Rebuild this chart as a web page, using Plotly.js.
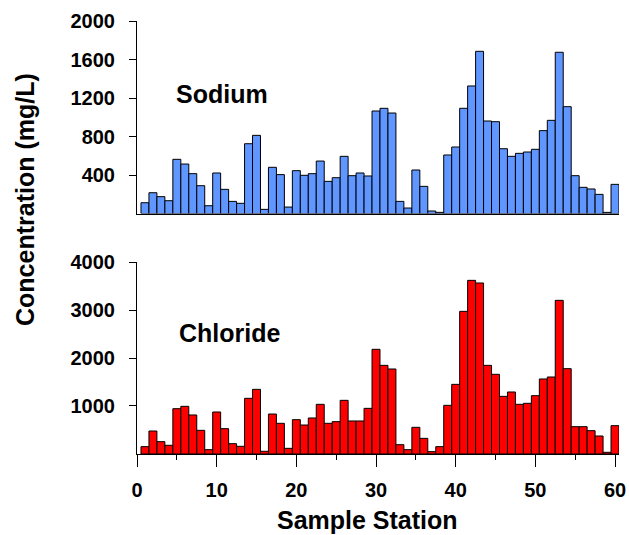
<!DOCTYPE html>
<html>
<head>
<meta charset="utf-8">
<script src="https://cdn.plot.ly/plotly-3.0.1.min.js"></script>
<style>html,body{margin:0;padding:0;background:#fff;}#chart{width:629px;height:535px;}</style>
</head>
<body>
<div id="chart"></div>
<script>
const stations = [1,2,3,4,5,6,7,8,9,10,11,12,13,14,15,16,17,18,19,20,21,22,23,24,25,26,27,28,29,30,31,32,33,34,35,36,37,38,39,40,41,42,43,44,45,46,47,48,49,50,51,52,53,54,55,56,57,58,59,60];
const sodium = [112,216,175,133,563,514,414,289,81,421,
                251,126,106,725,812,43,480,404,67,445,
                397,414,545,334,372,594,393,421,390,1065,
                1093,1044,126,57,452,282,26,12,608,691,
                1093,1325,1685,961,954,673,594,625,639,667,
                861,968,1675,1110,393,272,255,199,12,303];
const chloride = [153,479,257,181,944,993,813,493,90,875,
                  528,215,160,1160,1347,56,833,639,118,715,
                  604,750,1035,639,674,1118,688,688,951,2181,
                  1847,1771,194,90,556,326,49,153,1014,1451,
                  2972,3618,3563,1847,1660,1201,1292,1035,1056,1215,
                  1563,1604,3201,1778,569,569,486,375,35,590];
const sodiumTicks = [400,800,1200,1600,2000];
const chlorideTicks = [1000,2000,3000,4000];
const xLabel = 'Sample Station';
const yLabel = 'Concentration (mg/L)';

const FONT = 'Liberation Sans, Arial, Helvetica, sans-serif';
const tickFont = {family: FONT, size: 20, color: '#000', weight: 'bold'};

const traces = [
  {type:'bar', x: stations, y: sodium, xaxis:'x2', yaxis:'y', name:'Sodium',
   marker:{color:'#6096FF', line:{color:'#000', width:1}}, width:1, hoverinfo:'x+y'},
  {type:'bar', x: stations, y: chloride, xaxis:'x', yaxis:'y2', name:'Chloride',
   marker:{color:'#FF0000', line:{color:'#000', width:1}}, width:1, hoverinfo:'x+y'}
];

const layout = {
  width: 629, height: 535,
  margin: {l:137, r:10, t:21, b:81, pad:0},
  paper_bgcolor:'#fff', plot_bgcolor:'#fff',
  showlegend:false, bargap:0,
  font:{family: FONT, color:'#000'},
  xaxis: {
    domain:[0,1], anchor:'y2', range:[0,60.5],
    tickmode:'linear', tick0:0, dtick:10,
    ticks:'outside', ticklen:12, tickwidth:1, tickcolor:'#000',
    minor:{dtick:5, tick0:0, ticks:'outside', ticklen:5, tickwidth:1, tickcolor:'#000', showgrid:false},
    ticklabelstandoff:6,
    showline:true, linecolor:'#000', linewidth:1,
    showgrid:false, zeroline:false, tickfont: tickFont
  },
  xaxis2: {
    matches:'x', anchor:'y', domain:[0,1],
    ticks:'', showticklabels:false,
    showline:true, linecolor:'#000', linewidth:1,
    showgrid:false, zeroline:false
  },
  yaxis: {
    domain:[0.5554,1], anchor:'x2', range:[0,2000],
    tickmode:'array', tickvals: sodiumTicks,
    ticks:'outside', ticklen:7, tickwidth:1, tickcolor:'#000',
    ticklabelstandoff:10,
    showline:true, linecolor:'#000', linewidth:1,
    showgrid:false, zeroline:false, tickfont: tickFont
  },
  yaxis2: {
    domain:[0,0.4434], anchor:'x', range:[0,4000],
    tickmode:'array', tickvals: chlorideTicks,
    ticks:'outside', ticklen:7, tickwidth:1, tickcolor:'#000',
    ticklabelstandoff:10,
    showline:true, linecolor:'#000', linewidth:1,
    showgrid:false, zeroline:false, tickfont: tickFont
  },
  annotations: [
    {text:'Sodium', xref:'paper', yref:'paper', x:0.176, y:0.831, xanchor:'center', yanchor:'middle',
     showarrow:false, font:{family:FONT, size:25, color:'#000', weight:'bold'}},
    {text:'Chloride', xref:'paper', yref:'paper', x:0.191, y:0.279, xanchor:'center', yanchor:'middle',
     showarrow:false, font:{family:FONT, size:25, color:'#000', weight:'bold'}},
    {text:xLabel, xref:'paper', yref:'paper', x:0.479, y:-0.152, xanchor:'center', yanchor:'middle',
     showarrow:false, font:{family:FONT, size:25, color:'#000', weight:'bold'}},
    {text:yLabel, xref:'paper', yref:'paper', x:-0.232, y:0.587, xanchor:'center', yanchor:'middle',
     textangle:-90, showarrow:false, font:{family:FONT, size:25, color:'#000', weight:'bold'}}
  ]
};

Plotly.newPlot('chart', traces, layout, {displayModeBar:false, staticPlot:true});
</script>
</body>
</html>
